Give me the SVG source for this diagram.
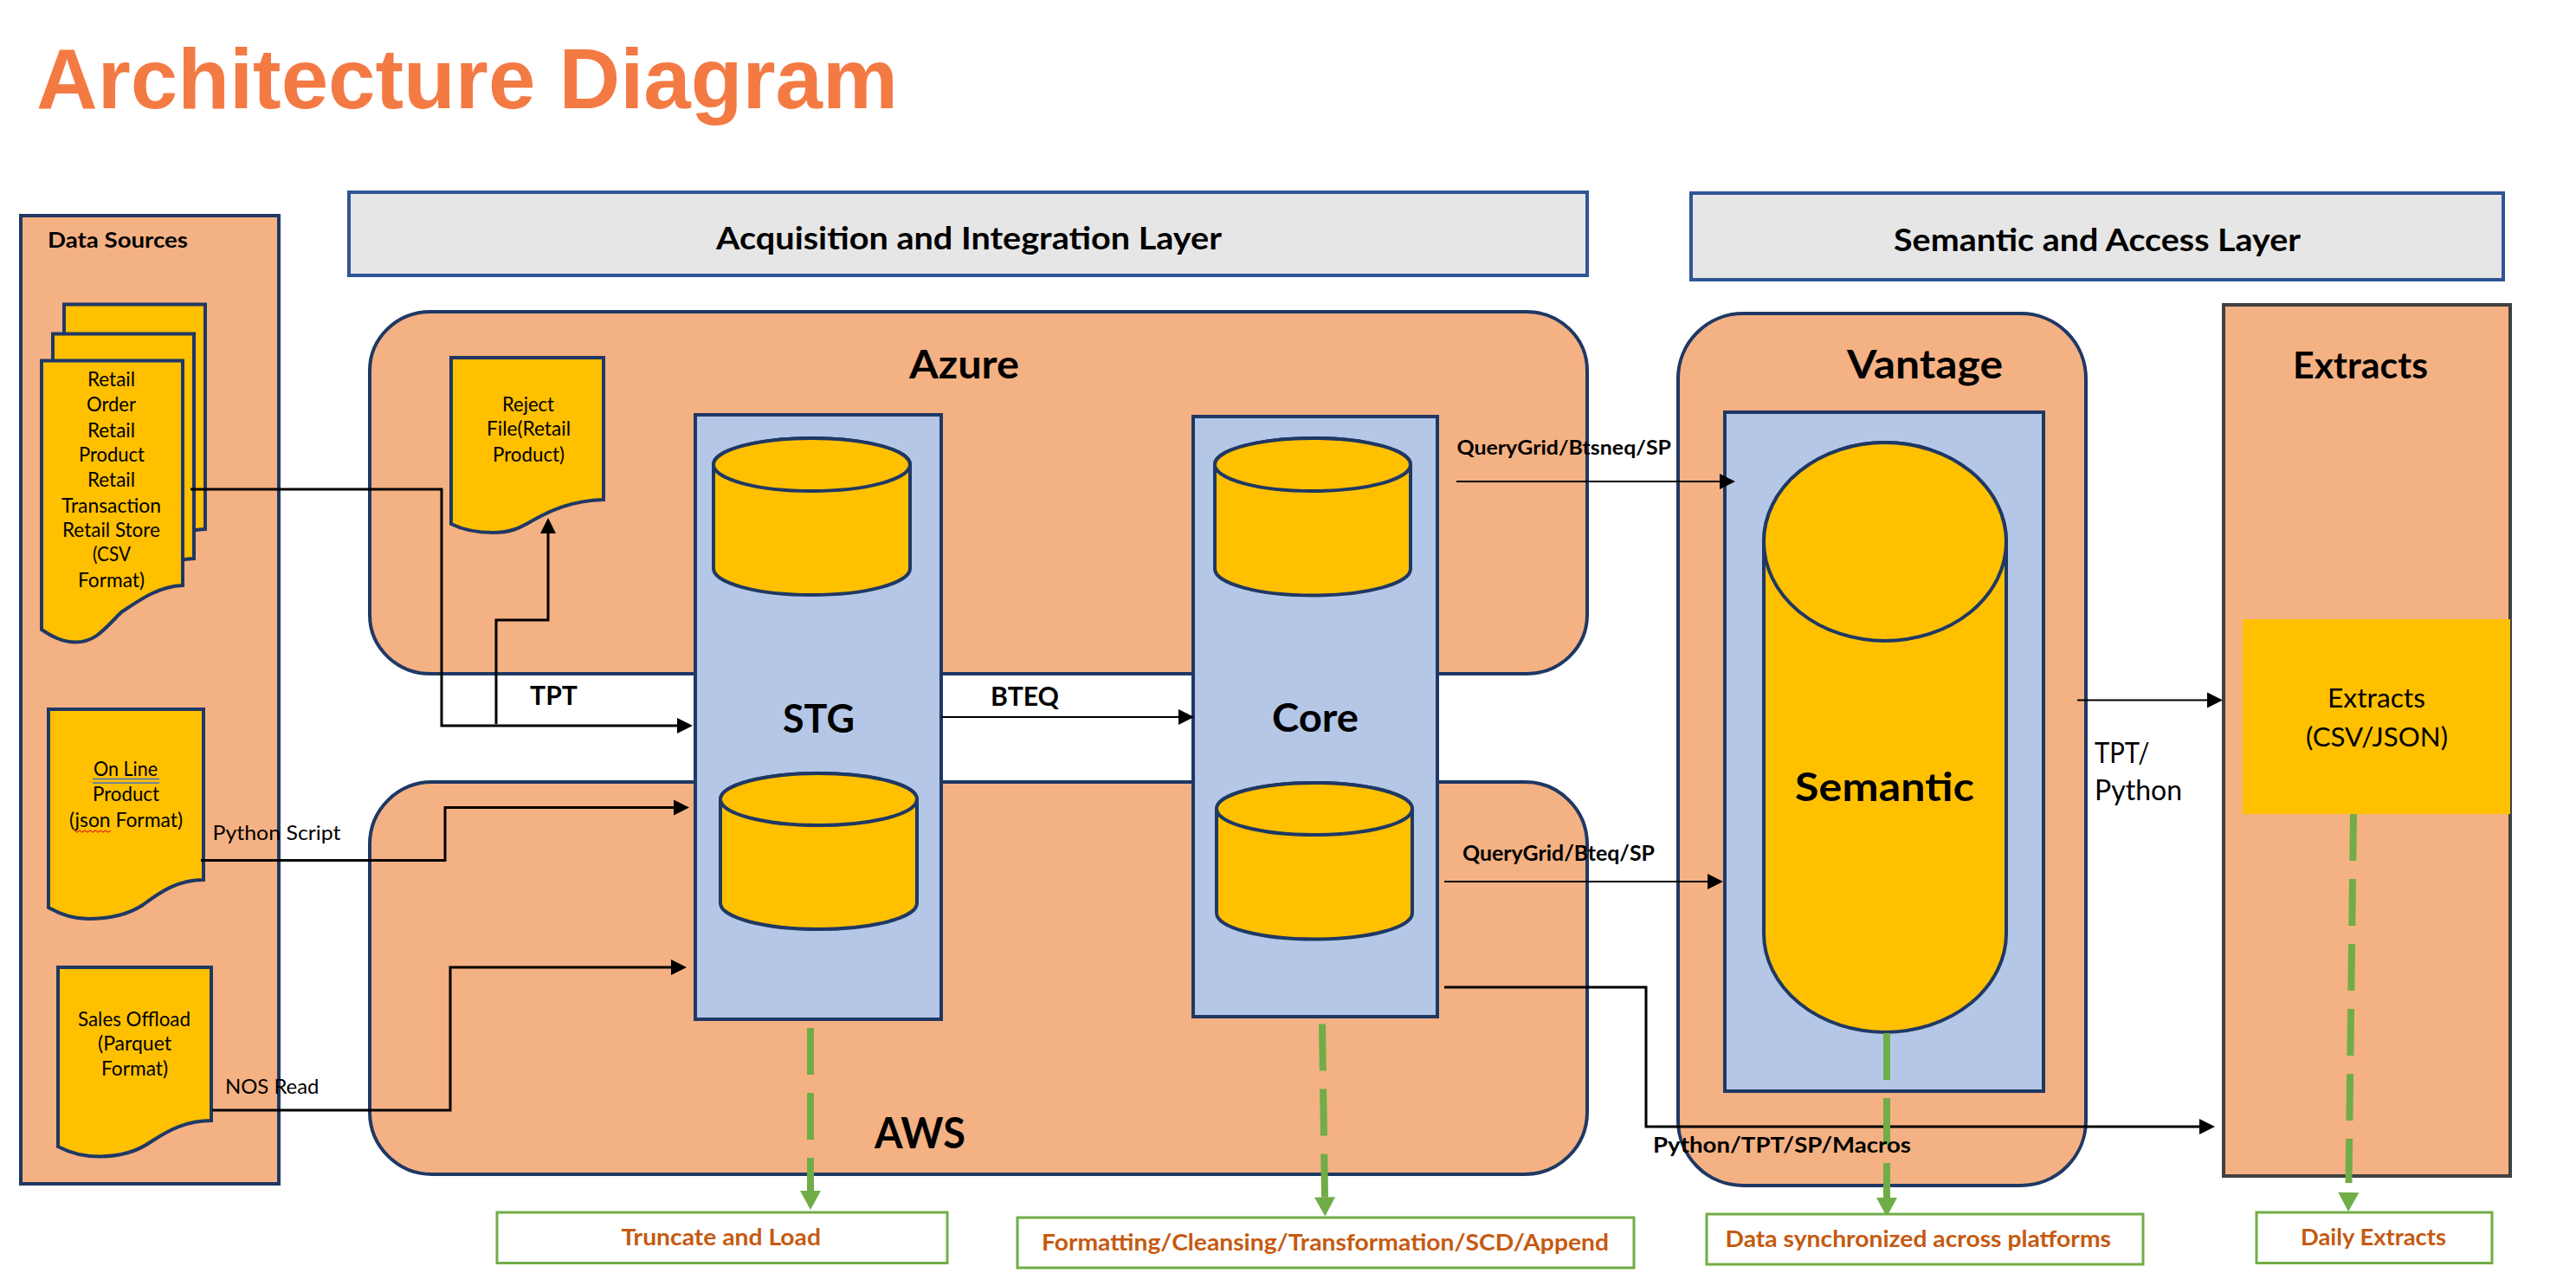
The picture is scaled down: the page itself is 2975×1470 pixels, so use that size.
<svg xmlns="http://www.w3.org/2000/svg" width="2975" height="1470" viewBox="0 0 2975 1470">
<style>
text{font-family:Lato,"Open Sans",sans-serif;fill:#000}
.b{font-weight:700}
.title{font-family:"Liberation Sans",Arial,sans-serif;font-weight:700;font-size:98px;fill:#F47A44}
.o{fill:#F4B183;stroke:#1F3864;stroke-width:4}
.x{fill:#F4B183;stroke:#404040;stroke-width:4}
.h{fill:#E7E6E6;stroke:#2F5597;stroke-width:4}
.bl{fill:#B4C7E7;stroke:#1F3864;stroke-width:4}
.y{fill:#FFC000;stroke:#1F3864;stroke-width:4}
.gb{fill:#fff;stroke:#70AD47;stroke-width:3}
.gt{font-weight:700;font-size:27px;fill:#C55A11}
.d{font-size:23px}
.k{fill:none;stroke:#000;stroke-width:3}
.t{fill:none;stroke:#000;stroke-width:1.800}
.g{fill:none;stroke:#70AD47;stroke-width:8;stroke-dasharray:54 21}
</style>
<defs>
<marker id="ah" markerUnits="userSpaceOnUse" markerWidth="18" markerHeight="18" refX="0" refY="9" orient="auto" overflow="visible"><path d="M0,0L18,9L0,18Z" fill="#000"/></marker>
<marker id="gh" markerUnits="userSpaceOnUse" markerWidth="22" markerHeight="24" refX="0" refY="12" orient="auto" overflow="visible"><path d="M0,0L22,12L0,24Z" fill="#70AD47"/></marker>
<marker id="gh2" markerUnits="userSpaceOnUse" markerWidth="22" markerHeight="24" refX="-11" refY="12" orient="auto" overflow="visible"><path d="M0,0L22,12L0,24Z" fill="#70AD47"/></marker>
</defs>
<rect width="2975" height="1470" fill="#fff"/>
<text class="title" x="42" y="125" textLength="995" lengthAdjust="spacingAndGlyphs">Architecture Diagram</text>

<g id="header-acquisition"><rect class="h" x="403" y="222" width="1430" height="96"/><text class="b" font-size="36" x="827" y="288" textLength="584" lengthAdjust="spacingAndGlyphs">Acquisition and Integration Layer</text></g>
<g id="header-semantic"><rect class="h" x="1953" y="223" width="938" height="100"/><text class="b" font-size="36" x="2187" y="290" textLength="470" lengthAdjust="spacingAndGlyphs">Semantic and Access Layer</text></g>

<g id="data-sources">
<rect class="o" x="24" y="249" width="298" height="1118"/>
<text class="b" font-size="25" x="55" y="286" textLength="162" lengthAdjust="spacingAndGlyphs">Data Sources</text>
</g>
<g id="doc-retail">
<path class="y" transform="translate(26,-65)" d="M48,416.500H211V676C185,677 165,690 140,707C120,727 110,741.500 87,741.500C72,741.500 60,735 48,727Z"/>
<path class="y" transform="translate(13,-31)" d="M48,416.500H211V676C185,677 165,690 140,707C120,727 110,741.500 87,741.500C72,741.500 60,735 48,727Z"/>
<path class="y" d="M48,416.500H211V676C185,677 165,690 140,707C120,727 110,741.500 87,741.500C72,741.500 60,735 48,727Z"/>
<text class="d" x="101" y="446" textLength="55" lengthAdjust="spacingAndGlyphs">Retail</text>
<text class="d" x="100" y="474.500" textLength="57" lengthAdjust="spacingAndGlyphs">Order</text>
<text class="d" x="101" y="504.500" textLength="55" lengthAdjust="spacingAndGlyphs">Retail</text>
<text class="d" x="91" y="532.600" textLength="76" lengthAdjust="spacingAndGlyphs">Product</text>
<text class="d" x="101" y="561.600" textLength="55" lengthAdjust="spacingAndGlyphs">Retail</text>
<text class="d" x="71" y="591.500" textLength="115" lengthAdjust="spacingAndGlyphs">Transaction</text>
<text class="d" x="72" y="619.600" textLength="113" lengthAdjust="spacingAndGlyphs">Retail Store</text>
<text class="d" x="107" y="648" textLength="44" lengthAdjust="spacingAndGlyphs">(CSV</text>
<text class="d" x="90" y="677.700" textLength="77" lengthAdjust="spacingAndGlyphs">Format)</text>
</g>
<g id="doc-online">
<path class="y" d="M56,819H235V1016C205,1016 185,1030 165,1045C148,1056 125,1061 102,1061C85,1061 70,1056 56,1048Z"/>
<text class="d" x="108" y="896" textLength="74" lengthAdjust="spacingAndGlyphs">On Line</text>
<path d="M107,899.500H184M107,904H184" fill="none" stroke="#4472C4" stroke-width="1.500"/>
<text class="d" x="107" y="925" textLength="77" lengthAdjust="spacingAndGlyphs">Product</text>
<text class="d" x="80" y="954.700" textLength="131" lengthAdjust="spacingAndGlyphs">(json Format)</text>
<path d="M86,959l3,2 3,-2 3,2 3,-2 3,2 3,-2 3,2 3,-2 3,2 3,-2 3,2 3,-2 3,2 3,-2" fill="none" stroke="#E0301E" stroke-width="1.200"/>
</g>
<g id="doc-sales">
<path class="y" d="M67,1117H244V1294C215,1294 195,1305 175,1318C158,1330 138,1335.500 115,1335.500C97,1335.500 82,1332 67,1324Z"/>
<text class="d" x="90" y="1184.600" textLength="130" lengthAdjust="spacingAndGlyphs">Sales Offload</text>
<text class="d" x="113" y="1213" textLength="85" lengthAdjust="spacingAndGlyphs">(Parquet</text>
<text class="d" x="117" y="1242" textLength="77" lengthAdjust="spacingAndGlyphs">Format)</text>
</g>

<g id="azure">
<rect class="o" x="427" y="360" width="1406" height="418" rx="70" ry="68"/>
<text class="b" font-size="46" x="1050" y="437" textLength="127" lengthAdjust="spacingAndGlyphs">Azure</text>
</g>
<g id="doc-reject">
<path class="y" d="M521,413H697V577C660,578 635,590 617,600C600,610 590,615 569,615C552,615 535,612 521,605Z"/>
<text class="d" x="580" y="474.500" textLength="60" lengthAdjust="spacingAndGlyphs">Reject</text>
<text class="d" x="562" y="502.700" textLength="97" lengthAdjust="spacingAndGlyphs">File(Retail</text>
<text class="d" x="569" y="532.600" textLength="83" lengthAdjust="spacingAndGlyphs">Product)</text>
</g>
<g id="aws">
<rect class="o" x="427" y="903" width="1406" height="453" rx="72" ry="72"/>
<text class="b" font-size="49" x="1010" y="1326" textLength="105" lengthAdjust="spacingAndGlyphs">AWS</text>
</g>
<g id="stg">
<rect class="bl" x="803" y="479" width="284" height="698"/>
<path class="y" d="M824,536.500A113.500,30.500 0 0 1 1051,536.500V656.500A113.500,30.500 0 0 1 824,656.500Z"/>
<ellipse class="y" cx="937.500" cy="536.500" rx="113.500" ry="30.500"/>
<path class="y" d="M832,923A113.500,30 0 0 1 1059,923V1043A113.500,30 0 0 1 832,1043Z"/>
<ellipse class="y" cx="945.500" cy="923" rx="113.500" ry="30"/>
<text class="b" font-size="46" x="904" y="846" textLength="83" lengthAdjust="spacingAndGlyphs">STG</text>
</g>
<g id="core">
<rect class="bl" x="1378" y="481" width="282" height="693"/>
<path class="y" d="M1403,536.500A113,30.500 0 0 1 1629,536.500V657A113,30.500 0 0 1 1403,657Z"/>
<ellipse class="y" cx="1516" cy="536.500" rx="113" ry="30.500"/>
<path class="y" d="M1405,934A113,30 0 0 1 1631,934V1054.500A113,30 0 0 1 1405,1054.500Z"/>
<ellipse class="y" cx="1518" cy="934" rx="113" ry="30"/>
<text class="b" font-size="46" x="1469" y="845" textLength="100" lengthAdjust="spacingAndGlyphs">Core</text>
</g>
<g id="vantage">
<rect class="o" x="1938" y="362" width="471" height="1007" rx="75" ry="75"/>
<text class="b" font-size="45" x="2133" y="437" textLength="180" lengthAdjust="spacingAndGlyphs">Vantage</text>
<rect class="bl" x="1992" y="476" width="368" height="784"/>
<path class="y" d="M2037,625.500A140,114.500 0 0 1 2317,625.500V1078A140,114 0 0 1 2037,1078Z"/>
<ellipse class="y" cx="2177" cy="625.500" rx="140" ry="114.500"/>
<text class="b" font-size="46" x="2073" y="925" textLength="207" lengthAdjust="spacingAndGlyphs">Semantic</text>
</g>
<g id="extracts">
<rect class="x" x="2568" y="352" width="331" height="1006"/>
<text class="b" font-size="42" x="2648" y="437" textLength="156" lengthAdjust="spacingAndGlyphs">Extracts</text>
<rect x="2590" y="715" width="309" height="225" fill="#FFC000"/>
<text font-size="30" x="2688" y="817" textLength="113" lengthAdjust="spacingAndGlyphs">Extracts</text>
<text font-size="30" x="2663" y="862" textLength="164" lengthAdjust="spacingAndGlyphs">(CSV/JSON)</text>
</g>

<g id="connectors">
<path class="k" marker-end="url(#ah)" d="M220,565H510V838H782"/>
<path class="k" marker-end="url(#ah)" d="M573,836V716H633V616"/>
<path class="k" marker-end="url(#ah)" d="M232,993.500H514V932.500H778"/>
<path class="k" marker-end="url(#ah)" d="M245,1282H520V1117H775"/>
<path class="t" marker-end="url(#ah)" d="M1087,828H1361"/>
<path class="t" marker-end="url(#ah)" d="M1682,556H1986"/>
<path class="t" marker-end="url(#ah)" d="M1668,1018H1972"/>
<path class="k" marker-end="url(#ah)" d="M1668,1140H1901V1301H2540"/>
<path class="t" marker-end="url(#ah)" d="M2399,808.500H2549"/>
<path class="g" marker-end="url(#gh)" d="M936,1187V1375"/>
<path class="g" marker-end="url(#gh)" d="M1527,1182.500L1530,1382.500"/>
<path class="g" marker-end="url(#gh)" d="M2179,1193V1383"/>
<path class="g" marker-end="url(#gh2)" d="M2718,940L2712.500,1366"/>
</g>

<g id="connector-labels">
<text class="d" x="245.500" y="970" textLength="148" lengthAdjust="spacingAndGlyphs">Python Script</text>
<text class="d" x="260" y="1263" textLength="108.500" lengthAdjust="spacingAndGlyphs">NOS Read</text>
<text class="b" font-size="30" x="612" y="814" textLength="55" lengthAdjust="spacingAndGlyphs">TPT</text>
<text class="b" font-size="30" x="1144" y="815" textLength="79" lengthAdjust="spacingAndGlyphs">BTEQ</text>
<text class="b" font-size="23" x="1682.500" y="524.500" textLength="247.500" lengthAdjust="spacingAndGlyphs">QueryGrid/Btsneq/SP</text>
<text class="b" font-size="24" x="1689" y="994" textLength="222" lengthAdjust="spacingAndGlyphs">QueryGrid/Bteq/SP</text>
<text class="b" font-size="25" x="1909" y="1331" textLength="298" lengthAdjust="spacingAndGlyphs">Python/TPT/SP/Macros</text>
<text font-size="32" x="2419" y="881" textLength="63.500" lengthAdjust="spacingAndGlyphs">TPT/</text>
<text font-size="32" x="2419" y="924" textLength="101" lengthAdjust="spacingAndGlyphs">Python</text>
</g>

<g id="note-truncate"><rect class="gb" x="574" y="1400" width="520" height="58.500"/><text class="gt" x="717.500" y="1438" textLength="230.500" lengthAdjust="spacingAndGlyphs">Truncate and Load</text></g>
<g id="note-format"><rect class="gb" x="1175" y="1406" width="712" height="58"/><text class="gt" x="1203" y="1444" textLength="655" lengthAdjust="spacingAndGlyphs">Formatting/Cleansing/Transformation/SCD/Append</text></g>
<g id="note-sync"><rect class="gb" x="1971" y="1402" width="504" height="58"/><text class="gt" x="1992.500" y="1440" textLength="445.500" lengthAdjust="spacingAndGlyphs">Data synchronized across platforms</text></g>
<g id="note-daily"><rect class="gb" x="2606" y="1400" width="272" height="58.500"/><text class="gt" x="2657" y="1437.600" textLength="168" lengthAdjust="spacingAndGlyphs">Daily Extracts</text></g>
</svg>
